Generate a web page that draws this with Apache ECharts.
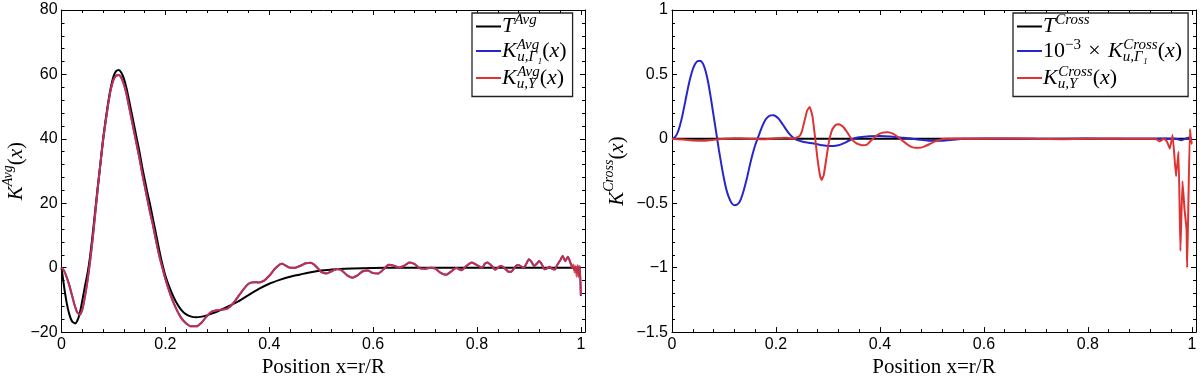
<!DOCTYPE html>
<html><head><meta charset="utf-8">
<script src="https://cdn.jsdelivr.net/npm/echarts@6/dist/echarts.min.js"></script>
<style>html,body{margin:0;padding:0;background:#fff}#c{width:1200px;height:383px}</style>
</head><body><div id="c"></div>
<script>
// ---------- data (left panel: Avg kernels) ----------
const avgTX = [0,0.005,0.01,0.015,0.02,0.026,0.03,0.035,0.04,0.045,0.05,0.055,0.06,0.065,0.07,0.075,0.08,0.085,0.09,0.095,0.1,0.105,0.11,0.115,0.12,0.125,0.13,0.135,0.14,0.145,0.15,0.155,0.16,0.165,0.17,0.175,0.18,0.185,0.19,0.195,0.2,0.21,0.22,0.23,0.24,0.25,0.26,0.27,0.28,0.29,0.3,0.32,0.34,0.36,0.38,0.4,0.42,0.44,0.46,0.48,0.5,0.53,0.56,0.6,0.65,0.7,0.8,0.9,1.0];
const avgT  = [0,-6,-11,-14.5,-16.6,-17.3,-16.6,-14.2,-10.2,-5.8,-1.8,3.5,10.5,18,25.5,32.5,40,46,51.5,56,59.3,61,61.4,60.6,58.7,55.8,52,48,44,40,36,31.5,27.5,23.5,20,16,12,8,4,0.5,-2.5,-7,-10.5,-13,-14.5,-15.2,-15.4,-15.2,-14.8,-14.2,-13.6,-12.1,-10.5,-8.5,-6.6,-5,-3.8,-2.8,-2.1,-1.4,-0.9,-0.5,-0.25,-0.1,0,0,0,0,0];

const avgKX = [0,0.005,0.01,0.015,0.02,0.025,0.03,0.035,0.04,0.045,0.05,0.055,0.06,0.065,0.07,0.075,0.08,0.085,0.09,0.095,0.1,0.105,0.11,0.115,0.12,0.125,0.13,0.135,0.14,0.145,0.15,0.155,0.16,0.165,0.17,0.175,0.18,0.185,0.19,0.195,0.2,0.21,0.22,0.23,0.24,0.25,0.26,0.27,0.28,0.29,0.3,0.31,0.32,0.33,0.34,0.35,0.36,0.37,0.38,0.39,0.4,0.41,0.42,0.425,0.43,0.44,0.45,0.46,0.47,0.48,0.49,0.5,0.51,0.52,0.53,0.54,0.55,0.56,0.57,0.58,0.59,0.6,0.61,0.62,0.63,0.64,0.65,0.66,0.67,0.68,0.69,0.7,0.71,0.72,0.73,0.74,0.75,0.76,0.77,0.78,0.79,0.8,0.81,0.815,0.82,0.83,0.835,0.845,0.85,0.86,0.865,0.875,0.88,0.89,0.895,0.9,0.905,0.91,0.915,0.92,0.925,0.93,0.935,0.94,0.945,0.95,0.955,0.96,0.965,0.97,0.975,0.98,0.983,0.986,0.988,0.99,0.992,0.994,0.996,0.998,1.0];
const avgKY = [0,-1,-3,-5.5,-8.5,-11.5,-13.8,-14.6,-13,-9,-4,2,9,17,25,32.5,39.5,45.5,51,55.5,58.3,59.6,59.8,59,57,54,50,46,42,38,34,29.5,25.5,21.5,17.5,14,10,6,2.5,-0.5,-3.5,-8.5,-12.5,-15.5,-17.3,-18.2,-18.2,-17,-15,-13.6,-13.2,-13,-12.6,-11.2,-9,-6.8,-5,-4.5,-4.6,-4,-2.5,-0.5,1,1.2,0.8,0,0,0.6,1.4,1.5,0.4,-1.3,-1.8,-1.1,-0.4,-0.9,-2.4,-3.1,-2.4,-1.1,-0.9,-1.7,-1.8,-0.5,0.9,0.6,0,0.6,1.6,1.1,-0.2,-0.3,0,-0.3,-1.6,-2.2,-1.2,-0.1,-0.8,0.6,1.6,0.8,0,1.2,1.6,0.3,-0.6,0.5,0.3,-1.2,-1.3,0.5,0.8,0,1.2,2.6,1.8,0.5,1.2,2.1,1,-0.5,-0.2,0.3,-0.4,-0.6,1,2.2,3.6,2,3.4,1.5,0,1,-1.5,0.5,-2.8,0.8,-3,0.5,-8.5];
const avgKG = [0,-1,-3,-5.5,-8.5,-11.5,-13.8,-14.6,-13,-9,-4,2,9,17,25,32.5,39.5,45.5,51,55.5,58.3,59.6,59.8,59,57,54,50,46,42,38,34,29.5,25.5,21.5,17.5,14,10,6,2.5,-0.5,-3.5,-8.5,-12.5,-15.5,-17.3,-18.2,-18.2,-17,-15,-13.6,-13.2,-13,-12.6,-11.2,-9,-6.8,-5,-4.5,-4.6,-4,-2.5,-0.5,1,1.2,0.8,0,0,0.6,1.4,1.5,0.4,-1.3,-1.8,-1.1,-0.4,-0.9,-2.4,-3.1,-2.4,-1.1,-0.9,-1.7,-1.8,-0.5,0.9,0.6,0,0.6,1.6,1.1,-0.2,-0.3,0,-0.3,-1.6,-2.2,-1.2,-0.1,-0.8,0.6,1.6,0.8,0,1.2,1.6,0.3,-0.6,0.5,0.3,-1.2,-1.3,0.5,0.8,0,1.2,2.6,1.8,0.5,1.2,2.1,1,-0.5,-0.2,0.3,-0.4,-0.6,1,2.2,3.6,2,3.4,1.5,0.5,0,-0.8,0.2,-1.6,0.4,-2.5,0.3,-8.8];

// ---------- data (right panel: Cross kernels) ----------
const crossTX = [0,0.1,0.2,0.3,0.4,0.5,0.6,0.7,0.8,0.9,1.0];
const crossT  = [0,0,0,0,0,0,0,0,0,0,0];

const crossGX = [0,0.005,0.01,0.015,0.02,0.025,0.03,0.035,0.04,0.045,0.05,0.055,0.06,0.065,0.07,0.075,0.08,0.085,0.09,0.095,0.1,0.105,0.11,0.115,0.12,0.125,0.13,0.135,0.14,0.145,0.15,0.155,0.16,0.165,0.17,0.175,0.18,0.185,0.19,0.195,0.2,0.205,0.21,0.215,0.22,0.225,0.23,0.235,0.24,0.25,0.26,0.27,0.28,0.29,0.3,0.31,0.32,0.33,0.34,0.35,0.36,0.38,0.4,0.42,0.44,0.46,0.48,0.5,0.52,0.54,0.56,0.6,0.7,0.8,0.9,0.95,0.97,0.98,0.99,0.995,1.0];
const crossG  = [0,0.01,0.04,0.1,0.18,0.28,0.38,0.47,0.54,0.585,0.605,0.605,0.58,0.52,0.43,0.31,0.18,0.05,-0.08,-0.2,-0.31,-0.4,-0.46,-0.5,-0.515,-0.51,-0.49,-0.44,-0.37,-0.29,-0.2,-0.12,-0.05,0.005,0.06,0.11,0.15,0.172,0.182,0.183,0.175,0.157,0.13,0.1,0.07,0.042,0.02,0.004,-0.008,-0.02,-0.028,-0.035,-0.042,-0.05,-0.055,-0.055,-0.05,-0.035,-0.015,0.003,0.012,0.02,0.022,0.018,0.01,0.002,-0.008,-0.015,-0.015,-0.008,0,0.003,0,0.002,0,0.003,0,-0.01,0.005,0.01,0];

const crossYX = [0,0.02,0.04,0.06,0.08,0.1,0.12,0.14,0.16,0.18,0.2,0.22,0.235,0.245,0.25,0.255,0.26,0.265,0.27,0.275,0.28,0.285,0.288,0.292,0.297,0.302,0.308,0.315,0.322,0.33,0.338,0.345,0.355,0.365,0.375,0.385,0.395,0.405,0.415,0.425,0.435,0.445,0.455,0.465,0.475,0.485,0.495,0.505,0.515,0.525,0.55,0.6,0.65,0.7,0.75,0.8,0.85,0.9,0.93,0.938,0.946,0.952,0.9577,0.963,0.9696,0.9744,0.978,0.982,0.986,0.9898,0.991,0.9962,0.9994,1.0];
const crossY  = [0,-0.005,-0.012,-0.015,-0.008,0,0.005,0.003,0,-0.003,0.005,0.008,0.003,0.02,0.06,0.14,0.22,0.248,0.18,0.02,-0.16,-0.29,-0.32,-0.28,-0.15,-0.02,0.07,0.11,0.114,0.09,0.045,0,-0.035,-0.05,-0.045,-0.005,0.03,0.048,0.052,0.04,0.012,-0.02,-0.05,-0.068,-0.07,-0.06,-0.042,-0.022,-0.008,0,0.003,0,0.005,0,-0.003,0,0.002,0,0,-0.02,0,-0.02,-0.076,0.03,-0.29,-0.1,-0.87,-0.33,-0.55,-0.7,-1.0,0.076,-0.04,-0.02];

// ---------- tick / axis settings ----------
const xTicks = [0,0.2,0.4,0.6,0.8,1];
const leftYTicks = [-20,0,20,40,60,80];
const rightYTicks = [-1.5,-1,-0.5,0,0.5,1];

const zip = (xs, ys) => xs.map((x, i) => [x, ys[i]]);
const SANS = 'Liberation Sans';
const SERIF = 'Liberation Serif';
const BLUE = '#2626cc', RED = '#dd3333';

const fmtNum = v => String(+v.toFixed(4)).replace('-', '\u2212');
const onTick = (v, arr) => arr.some(t => Math.abs(t - v) < 1e-6);

function xAx(grid, pos, showLab) {
  return {
    type: 'value', gridIndex: grid, position: pos, min: 0, max: 1.008, interval: 0.2,
    axisLine: {onZero: false, lineStyle: {color: '#000', width: 1}},
    axisTick: {inside: true, length: 5, lineStyle: {color: '#000'}},
    minorTick: {show: true, splitNumber: 5, length: 3, lineStyle: {color: '#000'}},
    splitLine: {show: false},
    axisLabel: {show: showLab, margin: 4, color: '#000', fontFamily: SANS, fontSize: 16,
      formatter: v => onTick(v, xTicks) ? fmtNum(v) : ''},
    name: showLab ? 'Position x=r/R' : '', nameLocation: 'middle', nameGap: 22,
    nameTextStyle: {fontFamily: SERIF, fontSize: 21, color: '#000'}
  };
}
const nameRich = {
  k: {fontFamily: SERIF, fontStyle: 'italic', fontSize: 21, lineHeight: 30, color: '#000', verticalAlign: 'middle'},
  p: {fontFamily: SERIF, fontSize: 21, lineHeight: 30, color: '#000', verticalAlign: 'middle'},
  s: {fontFamily: SERIF, fontStyle: 'italic', fontSize: 14, lineHeight: 10, color: '#000', verticalAlign: 'top'}
};
function yAx(grid, pos, mn, mx, iv, ticks, name, gap) {
  const lab = pos === 'left';
  return {
    type: 'value', gridIndex: grid, position: pos, min: mn, max: mx, interval: iv,
    axisLine: {onZero: false, lineStyle: {color: '#000', width: 1}},
    axisTick: {inside: true, length: 5, lineStyle: {color: '#000'}},
    minorTick: {show: true, splitNumber: 5, length: 3, lineStyle: {color: '#000'}},
    splitLine: {show: false},
    axisLabel: {show: lab, margin: 4, color: '#000', fontFamily: SANS, fontSize: 16,
      formatter: v => onTick(v, ticks) ? fmtNum(v) : ''},
    name: lab ? name : '', nameLocation: 'middle', nameRotate: 90, nameGap: gap,
    nameTextStyle: {rich: nameRich}
  };
}

const legRich = {
  i: {fontFamily: SERIF, fontStyle: 'italic', fontSize: 22, lineHeight: 27, color: '#000', verticalAlign: 'middle'},
  r: {fontFamily: SERIF, fontSize: 22, lineHeight: 27, color: '#000', verticalAlign: 'middle'},
  sp: {fontFamily: SERIF, fontStyle: 'italic', fontSize: 15, lineHeight: 8, color: '#000', verticalAlign: 'top'},
  spz: {fontFamily: SERIF, fontStyle: 'italic', fontSize: 15, lineHeight: 8, color: '#000', verticalAlign: 'top', width: 0.5},
  sr: {fontFamily: SERIF, fontSize: 15, lineHeight: 8, color: '#000', verticalAlign: 'top'},
  sb: {fontFamily: SERIF, fontStyle: 'italic', fontSize: 15, lineHeight: 8, color: '#000', verticalAlign: 'bottom'},
  sbz: {fontFamily: SERIF, fontStyle: 'italic', fontSize: 15, lineHeight: 8, color: '#000', verticalAlign: 'bottom', width: 0.5}
};
const legendText = {
  'T^Avg': '{i|T}{sp|Avg}',
  'K^Avg_uG1': '{i|K}{spz|Avg}{sb|u,\u0393\u2081}{r|(}{i|x}{r|)}',
  'K^Avg_uY': '{i|K}{sbz|u,Y}{sp|Avg}{r|(}{i|x}{r|)}',
  'T^Cross': '{i|T}{sp|Cross}',
  '1e-3 K^Cross_uG1': '{r|10}{sr|\u22123}{r|\u2004\u00d7\u2004}{i|K}{sbz|u,\u0393\u2081}{sp|Cross}{r|(}{i|x}{r|)}',
  'K^Cross_uY': '{i|K}{sbz|u,Y}{sp|Cross}{r|(}{i|x}{r|)}'
};
function legend(left, names) {
  return {
    left: left, top: 13, orient: 'vertical', itemGap: 0, itemWidth: 25, itemHeight: 2, icon: 'rect',
    padding: [0, 6, 5, 4], borderColor: '#222', borderWidth: 1.3, borderRadius: 0, backgroundColor: '#fff',
    data: names, formatter: n => legendText[n], textStyle: {rich: legRich, padding: [0, 0, 0, -4]},
    selectedMode: false
  };
}
function line(name, xi, yi, data, color, w, extra) {
  return Object.assign({
    name: name, type: 'line', xAxisIndex: xi, yAxisIndex: yi, data: data,
    showSymbol: false, symbol: 'none', smooth: 0.2,
    lineStyle: {color: color, width: w}, itemStyle: {color: color}
  }, extra || {});
}

const chart = echarts.init(document.getElementById('c'), null, {renderer: 'canvas'});
chart.setOption({
  animation: false,
  backgroundColor: '#fff',
  grid: [
    {left: 61, top: 10, width: 524, height: 330, containLabel: false},
    {left: 672, top: 10, width: 524, height: 330, containLabel: false}
  ],
  xAxis: [xAx(0, 'bottom', true), xAx(0, 'top', false), xAx(1, 'bottom', true), xAx(1, 'top', false)],
  yAxis: [
    yAx(0, 'left', -20, 80, 20, leftYTicks, '{k|K}{s|Avg}{p|(}{k|x}{p|)}', 29),
    yAx(0, 'right', -20, 80, 20, leftYTicks, '', 0),
    yAx(1, 'left', -1.5, 1, 0.5, rightYTicks, '{k|K}{s|Cross}{p|(}{k|x}{p|)}', 40),
    yAx(1, 'right', -1.5, 1, 0.5, rightYTicks, '', 0)
  ],
  legend: [
    legend(472, ['T^Avg', 'K^Avg_uG1', 'K^Avg_uY']),
    legend(1013, ['T^Cross', '1e-3 K^Cross_uG1', 'K^Cross_uY'])
  ],
  series: [
    line('T^Avg', 0, 0, zip(avgTX, avgT), '#000', 2),
    line('K^Avg_uG1', 0, 0, zip(avgKX, avgKG), BLUE, 2),
    line('K^Avg_uY', 0, 0, zip(avgKX, avgKY), RED, 2, {lineStyle: {color: RED, width: 2, opacity: 0.85}}),
    line('T^Cross', 2, 2, zip(crossTX, crossT), '#000', 2),
    line('1e-3 K^Cross_uG1', 2, 2, zip(crossGX, crossG), BLUE, 2),
    line('K^Cross_uY', 2, 2, zip(crossYX, crossY), RED, 2, {smooth: 0.1})
  ]
});
</script></body></html>
